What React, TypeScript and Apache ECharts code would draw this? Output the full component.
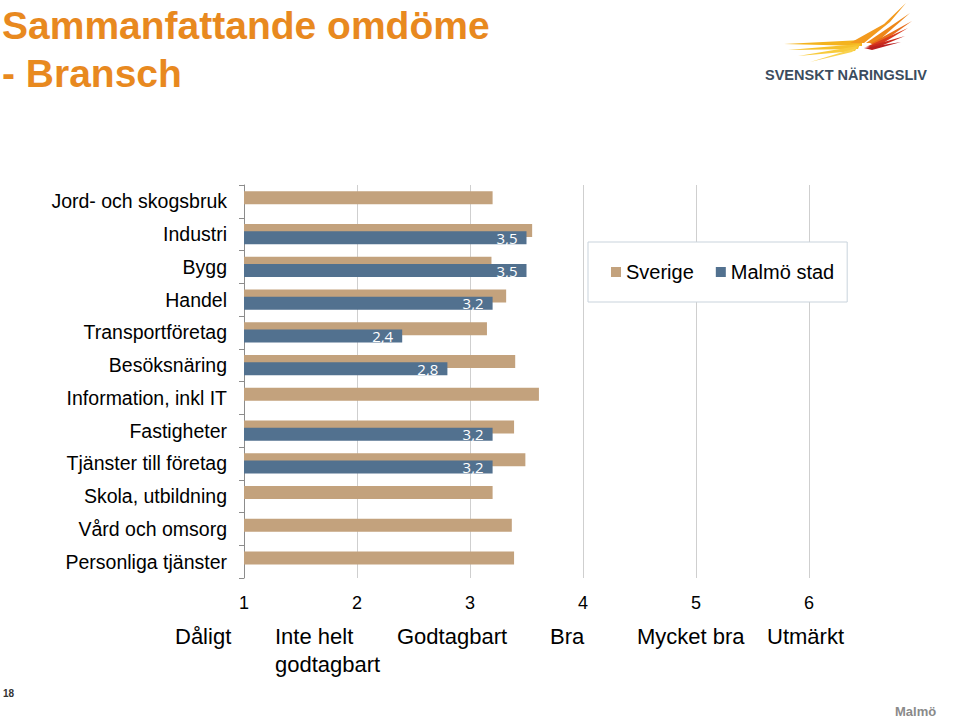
import React, { useEffect, useRef } from 'react';
import * as echarts from 'echarts';

const categories = [
  'Jord- och skogsbruk',
  'Industri',
  'Bygg',
  'Handel',
  'Transportföretag',
  'Besöksnäring',
  'Information, inkl IT',
  'Fastigheter',
  'Tjänster till företag',
  'Skola, utbildning',
  'Vård och omsorg',
  'Personliga tjänster',
];
const sverige = [3.2, 3.55, 3.19, 3.32, 3.15, 3.4, 3.61, 3.39, 3.49, 3.2, 3.37, 3.39];
const malmo: (number | null)[] = [null, 3.5, 3.5, 3.2, 2.4, 2.8, null, 3.2, 3.2, null, null, null];
const seriesNames = ['Sverige', 'Malmö stad'];
const scaleWords = ['Dåligt', 'Inte helt\ngodtagbart', 'Godtagbart', 'Bra', 'Mycket bra', 'Utmärkt'];
const scaleWordX = [175, 275, 397, 550, 637, 767];

const feathers: { pts: number[][]; c: string }[] = [
  { pts: [[784, 44], [862, 40], [862, 46]], c: '#F4B31E' },
  { pts: [[788, 50], [860, 44], [858, 49]], c: '#F6C12C' },
  { pts: [[798, 56], [858, 46], [855, 51]], c: '#F8CB3C' },
  { pts: [[810, 62], [856, 48], [852, 52]], c: '#F9D24E' },
  { pts: [[906, 3], [884, 24], [850, 43], [864, 43], [890, 22]], c: '#F39A1E' },
  { pts: [[910, 13], [866, 43], [876, 43]], c: '#EE8619' },
  { pts: [[912, 21], [870, 44], [880, 44]], c: '#E86D1A' },
  { pts: [[908, 28], [868, 46], [878, 46]], c: '#DA3B1E' },
  { pts: [[905, 36], [866, 47], [876, 48]], c: '#C92A1E' },
  { pts: [[901, 42], [864, 48], [872, 50]], c: '#B91F20' },
];

export default function App() {
  const ref = useRef<HTMLDivElement>(null);
  useEffect(() => {
    if (!ref.current) return;
    const chart = echarts.init(ref.current, undefined, { renderer: 'svg' });
    const font = 'Liberation Sans, Arial, sans-serif';
    const graphics: any[] = [
      {
        type: 'text',
        left: 2,
        top: 1,
        style: {
          text: 'Sammanfattande omdöme\n- Bransch',
          fill: '#E8891F',
          font: 'bold 39px ' + font,
          lineHeight: 48,
        },
      },
      ...feathers.map((f) => ({
        type: 'polygon',
        shape: { points: f.pts },
        style: { fill: f.c },
      })),
      {
        type: 'text',
        left: 765,
        top: 67,
        style: { text: 'SVENSKT NÄRINGSLIV', fill: '#3B4C5E', font: 'bold 14.5px ' + font },
      },
      ...scaleWords.map((w, i) => ({
        type: 'text',
        left: scaleWordX[i],
        top: 622,
        style: { text: w, fill: '#000', font: '22px ' + font, lineHeight: 28 },
      })),
      {
        type: 'text',
        left: 3,
        top: 688,
        style: { text: '18', fill: '#333', font: 'bold 10px ' + font },
      },
      {
        type: 'text',
        left: 895,
        top: 705,
        style: { text: 'Malmö', fill: '#8A8A8A', font: 'bold 13px ' + font },
      },
    ];
    chart.setOption({
      animation: false,
      backgroundColor: '#fff',
      grid: { left: 244, right: 150, top: 185, bottom: 141, containLabel: false },
      legend: {
        data: seriesNames,
        left: 588,
        top: 242,
        orient: 'horizontal',
        padding: [20, 13, 20, 23],
        itemGap: 22,
        itemWidth: 10,
        itemHeight: 10,
        icon: 'rect',
        borderColor: '#C9D3DC',
        borderWidth: 1,
        backgroundColor: '#fff',
        textStyle: { fontFamily: font, fontSize: 20, color: '#000' },
      },
      xAxis: {
        type: 'value',
        min: 1,
        max: 6,
        interval: 1,
        axisLine: { show: false },
        axisTick: { show: false },
        axisLabel: { color: '#000', fontFamily: font, fontSize: 18, margin: 16 },
        splitLine: { show: true, showMinLine: false, lineStyle: { color: '#CFCFCF', width: 1 } },
      },
      yAxis: {
        type: 'category',
        data: categories,
        inverse: true,
        axisLine: { show: true, lineStyle: { color: '#8C8C8C' } },
        axisTick: { show: true, length: 5, lineStyle: { color: '#8C8C8C' } },
        axisLabel: { color: '#000', fontFamily: font, fontSize: 19.5, margin: 17 },
        splitLine: { show: false },
      },
      series: [
        {
          name: seriesNames[0],
          type: 'bar',
          data: sverige,
          barWidth: 13,
          barGap: '-43%',
          itemStyle: { color: '#C3A27D' },
        },
        {
          name: seriesNames[1],
          type: 'bar',
          data: malmo,
          barWidth: 13,
          barGap: '-43%',
          itemStyle: { color: '#52718F' },
          label: {
            show: true,
            position: 'insideRight',
            distance: 9,
            color: '#fff',
            fontFamily: 'Open Sans, sans-serif',
            fontSize: 15,
            formatter: (p: any) => String(p.value).replace('.', ','),
          },
        },
      ],
      graphic: graphics,
    });
    return () => chart.dispose();
  }, []);
  return (
    <div
      ref={ref}
      style={{ position: 'fixed', left: 0, top: 0, width: 959, height: 719, background: '#fff' }}
    />
  );
}
